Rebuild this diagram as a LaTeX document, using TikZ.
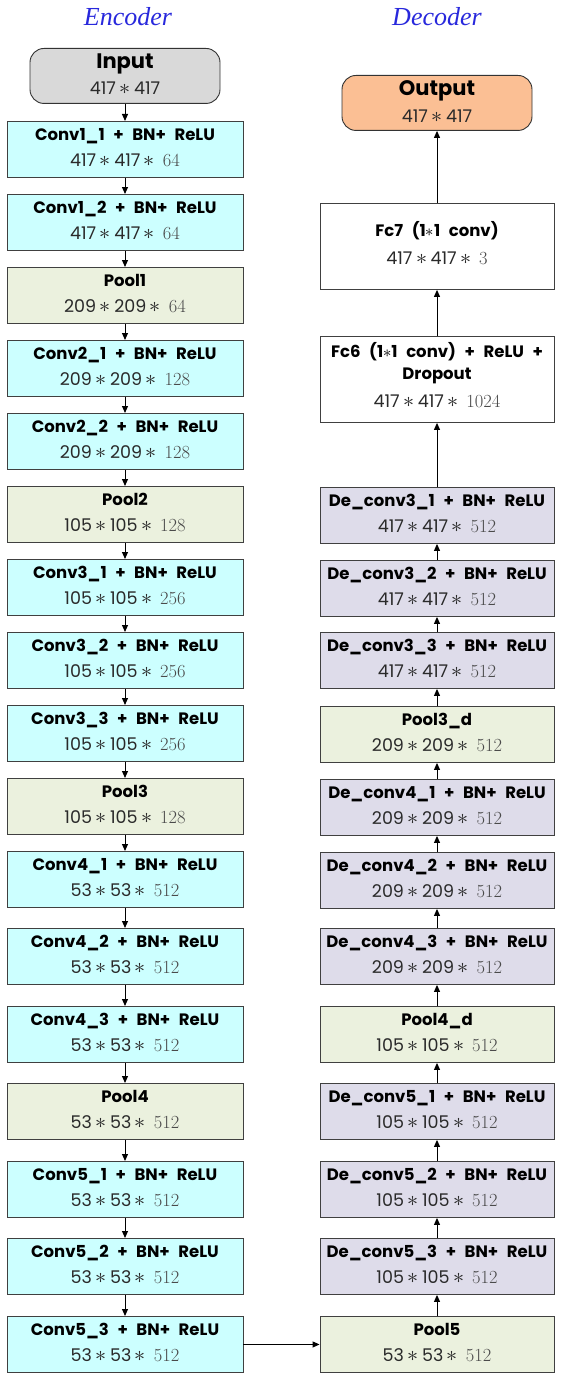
\documentclass[tikz,border=0pt]{standalone}
\usepackage{fontspec}
\usetikzlibrary{arrows.meta}
\newfontfamily\labfont{Poppins}
\newfontfamily\numfont{Poppins}
\newfontfamily\lmmath{Latin Modern Math}
\newfontfamily\lmrom{Latin Modern Roman}
\newfontfamily\titfont{Liberation Serif}
\definecolor{cyanbox}{HTML}{CCFFFF}
\definecolor{poolbox}{HTML}{EBF1DE}
\definecolor{decbox}{HTML}{DEDCEA}
\definecolor{inbox}{HTML}{D9D9D9}
\definecolor{outbox}{HTML}{FBBF94}
\definecolor{titblue}{HTML}{2828DC}
\definecolor{numgray}{HTML}{2A2A2A}
\definecolor{lmgray}{HTML}{4A4A4A}
\newcommand\wsp{\hskip 0.52em\relax}
\newcommand\ask{{\lmmath ∗}}
\newcommand\bigask{{\lmmath\fontsize{22}{22}\selectfont ∗}}
\newcommand\dm[3]{{\numfont #1}\hskip3.5pt\bigask\hskip3.5pt{\numfont #2}\hskip3.5pt\bigask\hskip8pt{\lmrom\fontsize{18.5}{18}\selectfont\color{lmgray}#3}}
\newcommand\blk[6]{%
  \node[#2, anchor=north] (#1) at (#3,#4) {};
  \node[lab] (#1-l) at ([yshift=13.5pt]#1.center) {#5};
  \node[num] (#1-n) at ([yshift=-13pt]#1.center) {#6};
}
\tikzset{
  boxbase/.style={draw=black!75, line width=0.9pt, inner sep=0pt, minimum height=56pt},
  lcol/.style={boxbase, minimum width=236pt},
  rcol/.style={boxbase, minimum width=234pt},
  encconv/.style={lcol, fill=cyanbox},
  encpool/.style={lcol, fill=poolbox},
  decconv/.style={rcol, fill=decbox},
  decpool/.style={rcol, fill=poolbox},
  fcbox/.style={rcol, fill=white, minimum height=86pt},
  lab/.style={inner sep=0pt, font=\labfont\bfseries\fontsize{16.5}{18}\selectfont, text height=12pt, text depth=3pt},
  big/.style={inner sep=0pt, font=\labfont\bfseries\fontsize{21}{23}\selectfont, text height=15pt, text depth=4pt},
  num/.style={inner sep=0pt, text=numgray, font=\fontsize{17.5}{19}\selectfont, text height=12pt, text depth=3pt},
  title/.style={inner sep=0pt, text=titblue, font=\titfont\itshape\fontsize{26}{29}\selectfont},
  arr/.style={-{Triangle[length=7pt,width=6pt]}, line width=1pt, black},
  roundbox/.style={draw=black!80, line width=0.9pt, rounded corners=14pt, minimum width=190pt, minimum height=55pt, inner sep=0pt},
}
\begin{document}
\begin{tikzpicture}[x=1pt,y=-1pt]
\useasboundingbox (0,0) rectangle (561,1378);
\node[title] (enc) at (128,17) {Encoder};
\node[title] (dec) at (437,17) {Decoder};
% Input
\node[roundbox, fill=inbox, anchor=north] (in) at (125,48) {};
\node[big] (in-l) at ([yshift=12.5pt]in.center) {Input};
\node[num] (in-n) at ([yshift=-14pt]in.center) {{\numfont 417}\hskip3.5pt\bigask\hskip3.5pt{\numfont 417}};
% Encoder
\blk{c11}{encconv}{125}{121}{Conv1\_1\wsp+\wsp BN+\wsp ReLU}{\dm{417}{417}{64}}
\blk{c12}{encconv}{125}{194}{Conv1\_2\wsp+\wsp BN+\wsp ReLU}{\dm{417}{417}{64}}
\blk{p1}{encpool}{125}{267}{Pool1}{\dm{209}{209}{64}}
\blk{c21}{encconv}{125}{340}{Conv2\_1\wsp+\wsp BN+\wsp ReLU}{\dm{209}{209}{128}}
\blk{c22}{encconv}{125}{413}{Conv2\_2\wsp+\wsp BN+\wsp ReLU}{\dm{209}{209}{128}}
\blk{p2}{encpool}{125}{486}{Pool2}{\dm{105}{105}{128}}
\blk{c31}{encconv}{125}{559}{Conv3\_1\wsp+\wsp BN+\wsp ReLU}{\dm{105}{105}{256}}
\blk{c32}{encconv}{125}{632}{Conv3\_2\wsp+\wsp BN+\wsp ReLU}{\dm{105}{105}{256}}
\blk{c33}{encconv}{125}{705}{Conv3\_3\wsp+\wsp BN+\wsp ReLU}{\dm{105}{105}{256}}
\blk{p3}{encpool}{125}{778}{Pool3}{\dm{105}{105}{128}}
\blk{c41}{encconv}{125}{851}{Conv4\_1\wsp+\wsp BN+\wsp ReLU}{\dm{53}{53}{512}}
\blk{c42}{encconv}{125}{928}{Conv4\_2\wsp+\wsp BN+\wsp ReLU}{\dm{53}{53}{512}}
\blk{c43}{encconv}{125}{1006}{Conv4\_3\wsp+\wsp BN+\wsp ReLU}{\dm{53}{53}{512}}
\blk{p4}{encpool}{125}{1083}{Pool4}{\dm{53}{53}{512}}
\blk{c51}{encconv}{125}{1161}{Conv5\_1\wsp+\wsp BN+\wsp ReLU}{\dm{53}{53}{512}}
\blk{c52}{encconv}{125}{1238}{Conv5\_2\wsp+\wsp BN+\wsp ReLU}{\dm{53}{53}{512}}
\blk{c53}{encconv}{125}{1316}{Conv5\_3\wsp+\wsp BN+\wsp ReLU}{\dm{53}{53}{512}}
% Decoder
\node[roundbox, fill=outbox, anchor=north] (out) at (437,75) {};
\node[big] (out-l) at ([yshift=12.5pt]out.center) {Output};
\node[num] (out-n) at ([yshift=-15pt]out.center) {{\numfont 417}\hskip3.5pt\bigask\hskip3.5pt{\numfont 417}};
\node[fcbox, anchor=north] (fc7) at (437,203) {};
\node[lab] (fc7-l) at ([yshift=14pt]fc7.center) {Fc7\wsp(1{\mdseries\ask}1\wsp conv)};
\node[num] (fc7-n) at ([yshift=-14pt]fc7.center) {\dm{417}{417}{3}};
\node[fcbox, anchor=north] (fc6) at (437,336) {};
\node[lab] (fc6-l) at ([yshift=26pt]fc6.center) {Fc6\wsp(1{\mdseries\ask}1\wsp conv)\wsp+\wsp ReLU\wsp+};
\node[lab] (fc6-m) at ([yshift=4pt]fc6.center) {Dropout};
\node[num] (fc6-n) at ([yshift=-24pt]fc6.center) {\dm{417}{417}{1024}};
\blk{d31}{decconv}{437}{487}{De\_conv3\_1\wsp+\wsp BN+\wsp ReLU}{\dm{417}{417}{512}}
\blk{d32}{decconv}{437}{560}{De\_conv3\_2\wsp+\wsp BN+\wsp ReLU}{\dm{417}{417}{512}}
\blk{d33}{decconv}{437}{632}{De\_conv3\_3\wsp+\wsp BN+\wsp ReLU}{\dm{417}{417}{512}}
\blk{p3d}{decpool}{437}{706}{Pool3\_d}{\dm{209}{209}{512}}
\blk{d41}{decconv}{437}{779}{De\_conv4\_1\wsp+\wsp BN+\wsp ReLU}{\dm{209}{209}{512}}
\blk{d42}{decconv}{437}{852}{De\_conv4\_2\wsp+\wsp BN+\wsp ReLU}{\dm{209}{209}{512}}
\blk{d43}{decconv}{437}{928}{De\_conv4\_3\wsp+\wsp BN+\wsp ReLU}{\dm{209}{209}{512}}
\blk{p4d}{decpool}{437}{1006}{Pool4\_d}{\dm{105}{105}{512}}
\blk{d51}{decconv}{437}{1083}{De\_conv5\_1\wsp+\wsp BN+\wsp ReLU}{\dm{105}{105}{512}}
\blk{d52}{decconv}{437}{1161}{De\_conv5\_2\wsp+\wsp BN+\wsp ReLU}{\dm{105}{105}{512}}
\blk{d53}{decconv}{437}{1238}{De\_conv5\_3\wsp+\wsp BN+\wsp ReLU}{\dm{105}{105}{512}}
\blk{p5}{decpool}{437}{1316}{Pool5}{\dm{53}{53}{512}}
% Encoder arrows
\draw[arr] (in) -- (c11);
\draw[arr] (c11) -- (c12);
\draw[arr] (c12) -- (p1);
\draw[arr] (p1) -- (c21);
\draw[arr] (c21) -- (c22);
\draw[arr] (c22) -- (p2);
\draw[arr] (p2) -- (c31);
\draw[arr] (c31) -- (c32);
\draw[arr] (c32) -- (c33);
\draw[arr] (c33) -- (p3);
\draw[arr] (p3) -- (c41);
\draw[arr] (c41) -- (c42);
\draw[arr] (c42) -- (c43);
\draw[arr] (c43) -- (p4);
\draw[arr] (p4) -- (c51);
\draw[arr] (c51) -- (c52);
\draw[arr] (c52) -- (c53);
\draw[arr] (c53) -- (p5);
% Decoder arrows
\draw[arr] (p5) -- (d53);
\draw[arr] (d53) -- (d52);
\draw[arr] (d52) -- (d51);
\draw[arr] (d51) -- (p4d);
\draw[arr] (p4d) -- (d43);
\draw[arr] (d43) -- (d42);
\draw[arr] (d42) -- (d41);
\draw[arr] (d41) -- (p3d);
\draw[arr] (p3d) -- (d33);
\draw[arr] (d33) -- (d32);
\draw[arr] (d32) -- (d31);
\draw[arr] (d31) -- (fc6);
\draw[arr] (fc6) -- (fc7);
\draw[arr] (fc7) -- (out);
\end{tikzpicture}
\end{document}
